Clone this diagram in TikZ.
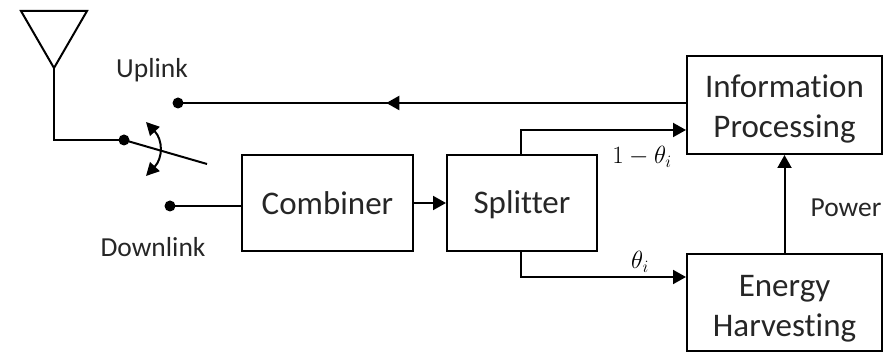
\documentclass[tikz,border=0pt]{standalone}
\usepackage{fontspec}
\usepackage{amsmath}
\setmainfont[Ligatures=NoCommon]{Carlito}
\usetikzlibrary{arrows.meta,decorations.markings}
\tikzset{
  block/.style={draw=black,line width=2pt,inner sep=0pt,align=center,font=\fontsize{33}{40}\selectfont,text=black!85},
  lab/.style={inner sep=0pt,font=\fontsize{27.5}{32}\selectfont,text=black!85},
  mth/.style={inner sep=0pt,font=\fontsize{25}{30}\selectfont},
  wire/.style={draw=black,line width=2pt},
  flow/.style={wire,-{Triangle[length=13pt,width=14pt]}},
  dot/.style={circle,fill=black,inner sep=0pt,minimum size=11pt},
  midleft/.style={postaction={decorate},decoration={markings,mark=at position 0.59 with {\arrow{Triangle[length=13pt,width=14pt]}}}}
}
\begin{document}
\begin{tikzpicture}[x=1pt,y=-1pt]
\useasboundingbox (0,0) rectangle (893,352);
\node[block,minimum width=195pt,minimum height=98pt] (info) at (784.5,105) {\rule{0pt}{31pt}Information\\Processing};
\node[block,minimum width=195pt,minimum height=97pt] (energy) at (784.5,302.5) {\rule{0pt}{34pt}Energy\\Harvesting};
\node[block,minimum width=171pt,minimum height=96pt] (comb) at (327.5,203) {Combiner};
\node[block,minimum width=150pt,minimum height=96pt] (split) at (522,203) {\rule{0pt}{27pt}Splitter};
\node[dot] (up) at (178,103) {};
\node[dot] (down) at (170,206) {};
\node[dot] (pivot) at (124,140) {};
\coordinate (apexL) at (21,11);
\coordinate (apexR) at (87,11);
\coordinate (tip) at (54,68);
\coordinate (swend) at (207,164);
\coordinate (arcA) at (146,122);
\coordinate (arcB) at (146,176);
\coordinate (sTop) at (521,155);
\coordinate (sBot) at (521,251);
\draw[wire,line join=miter] (apexL) -- (apexR) -- (tip) -- cycle;
\draw[wire] (tip) |- (pivot.center);
\draw[wire] (pivot.center) -- (swend);
\draw[wire,{Triangle[length=13pt,width=13pt]}-{Triangle[length=13pt,width=13pt]}] (arcA) .. controls (163,140) and (163,158) .. (arcB);
\draw[wire] (down.center) -- (down.center -| comb.west);
\draw[wire,midleft] (up.center -| info.west) -- (up.center);
\draw[flow] (comb.east) -- (split.west);
\draw[flow] (sTop) |- (info.west |- 0,130);
\draw[flow] (sBot) |- (energy.west |- 0,277);
\draw[flow] (energy.north) -- (info.south);
\node[lab] (lup) at (152,70) {Uplink};
\node[lab] (ldown) at (153,247) {Downlink};
\node[lab] (lpow) at (846,208) {Power};
\node[mth] (l1) at (642,157) {$1-\theta_i$};
\node[mth] (l2) at (640,262) {$\theta_i$};
\end{tikzpicture}
\end{document}
